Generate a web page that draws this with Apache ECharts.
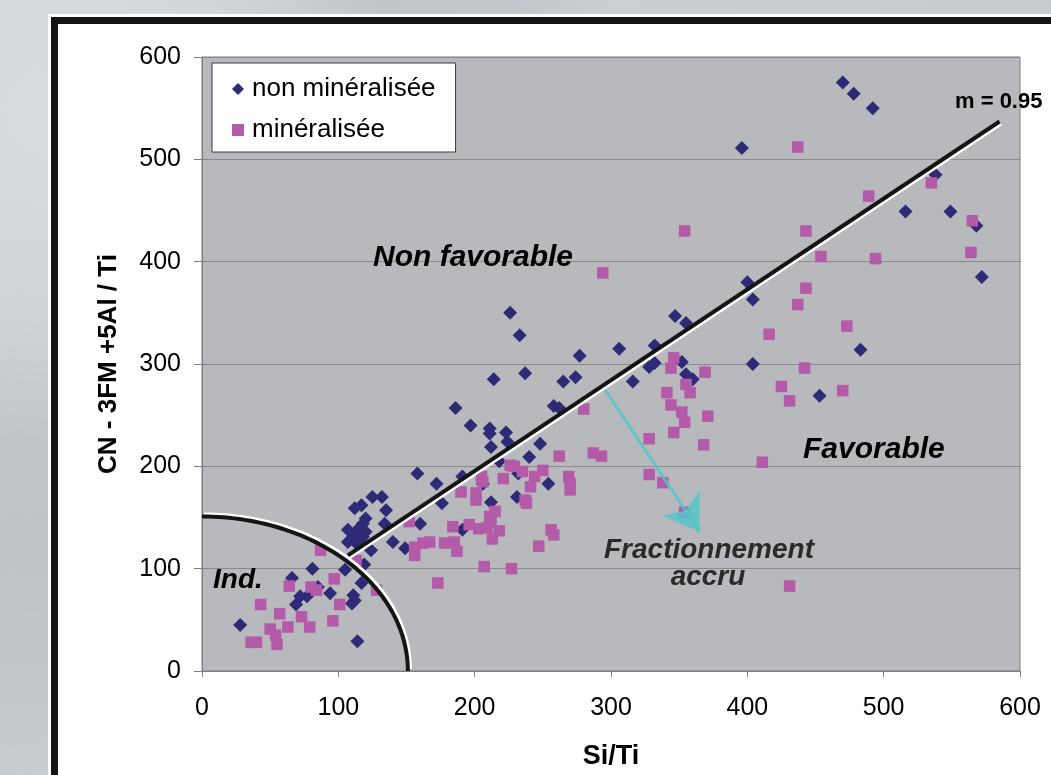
<!DOCTYPE html>
<html><head><meta charset="utf-8">
<script src="https://cdn.jsdelivr.net/npm/echarts@6/dist/echarts.min.js"></script>
<style>
html,body{margin:0;padding:0;width:1051px;height:775px;overflow:hidden;}
body{background:
 radial-gradient(ellipse at 8% 15%, #dadde1 0%, rgba(218,221,225,0) 35%),
 radial-gradient(ellipse at 35% 0%, #b8bbc0 0%, rgba(184,187,192,0) 25%),
 radial-gradient(ellipse at 3% 70%, #bfc2c7 0%, rgba(191,194,199,0) 30%),
 linear-gradient(160deg,#cfd2d6,#c4c7cc 50%,#d1d4d8);}
#frame{position:absolute;left:51px;top:17px;width:1200px;height:900px;border:7px solid #141414;outline:3px solid #fff;background:#fff;}
#chart{position:absolute;left:0;top:0;width:1051px;height:775px;}
</style></head><body>
<div id="frame"></div><div id="chart"></div>
<script>
const FONT = '"Liberation Sans", Arial, sans-serif';
const seriesNames = ['non minéralisée', 'minéralisée'];
const xTicks = [0, 100, 200, 300, 400, 500, 600];
const yTicks = [0, 100, 200, 300, 400, 500, 600];
const axisNames = ['Si/Ti', 'CN - 3FM +5Al / Ti'];

const nonMineralisee = [
 [125,170],[132,170],[112,159],[117,162],[135,157],[120,149],[118,144],[107,138],[114,138],[120,136],
 [134,144],[111,131],[118,131],[107,126],[113,125],[140,126],[124,118],[149,120],[119,104],[81,100],
 [105,99],[66,91],[117,86],[85,82],[94,76],[72,73],[77,73],[69,65],[111,74],[112,69],[110,66],[28,45],[114,29],
 [158,193],[172,183],[212,219],[224,224],[160,144],[176,164],[212,165],[191,138],[206,183],[231,170],[191,190],
 [233,328],[277,308],[306,315],[214,285],[237,291],[265,283],[274,287],[186,257],[197,240],[211,237],
 [211,232],[223,233],[258,259],[262,257],[248,222],[240,209],[218,205],[254,183],[232,193],[226,350],
 [470,575],[478,564],[492,550],[396,511],[538,485],[516,449],[549,449],[568,435],[572,385],[400,380],
 [404,363],[347,347],[355,340],[332,318],[483,314],[328,297],[332,301],[352,302],[355,290],[360,285],
 [316,283],[404,300],[453,269]
];
const mineralisee = [
 [87,118],[113,108],[97,90],[64,83],[80,82],[84,79],[128,79],[101,65],[43,65],[57,56],[73,53],[96,49],
 [50,41],[54,35],[63,43],[79,43],[36,28],[40,28],[55,26],
 [156,121],[156,113],[162,125],[167,126],[152,146],[178,125],[185,126],[187,117],[184,141],[196,143],
 [203,139],[209,140],[212,146],[218,137],[211,151],[213,129],[215,156],[190,175],[201,174],[201,167],
 [205,190],[206,185],[221,188],[226,201],[229,200],[235,195],[244,190],[250,196],[241,180],[269,190],
 [270,183],[270,177],[237,167],[238,164],[256,138],[258,133],[247,122],[207,102],[227,100],[173,86],
 [280,256],[262,210],[287,213],[293,210],
 [294,389],[437,512],[535,477],[489,464],[354,430],[443,430],[565,440],[454,405],[494,403],[564,409],
 [443,374],[437,358],[416,329],[473,337],[346,306],[344,296],[369,292],[442,296],[425,278],[431,264],
 [470,274],[341,272],[355,280],[358,272],[344,260],[352,253],[354,243],[371,249],[346,233],[328,227],
 [368,221],[411,204],[328,192],[338,184],[354,155],[431,83]
];
const trendLine = [[107,113],[585,537]];
const trendLabel = 'm = 0.95';
const indRadius = 151;
const fracArrow = [[295,276],[365,136]];
const zoneLabels = ['Non favorable', 'Favorable', 'Fractionnement', 'accru', 'Ind.'];

const arcPoints = [];
for (let a = 0; a <= 90; a += 1.5) {
  const t = a * Math.PI / 180;
  arcPoints.push([indRadius * Math.cos(t), indRadius * Math.sin(t)]);
}

const chart = echarts.init(document.getElementById('chart'), null, {renderer: 'canvas'});
const tickColor = '#7d7d7d';
const txt = (text, x, y, size, opts) => Object.assign({
  type: 'text', x: x, y: y, z: 100,
  style: Object.assign({text: text, fontFamily: FONT, fontSize: size, fontWeight: 'bold', fontStyle: 'italic',
    fill: '#000', align: 'left', verticalAlign: 'middle'}, opts || {})
});

chart.setOption({
  animation: false,
  grid: {left: 202, top: 57, right: 31, bottom: 104, show: true, backgroundColor: '#b8b9bd',
    borderColor: tickColor, borderWidth: 1, containLabel: false, outerBoundsMode: 'none'},
  legend: {
    left: 212, top: 63, orient: 'vertical',
    data: [{name: seriesNames[0], icon: 'diamond'}, {name: seriesNames[1], icon: 'rect'}],
    backgroundColor: '#fff', borderColor: '#3a3a3a', borderWidth: 1, borderRadius: 0,
    padding: [12, 20, 8, 20], itemGap: 13, itemWidth: 12, itemHeight: 12,
    textStyle: {fontFamily: FONT, fontSize: 26, color: '#000', lineHeight: 28, padding: [0, 0, 0, 3]}
  },
  xAxis: {
    type: 'value', min: xTicks[0], max: xTicks[xTicks.length - 1], interval: xTicks[1] - xTicks[0],
    name: axisNames[0], nameLocation: 'middle', nameGap: 72,
    nameTextStyle: {fontFamily: FONT, fontSize: 27, fontWeight: 'bold', color: '#000'},
    axisLine: {show: true, onZero: false, lineStyle: {color: tickColor, width: 1}},
    axisTick: {show: true, length: 6, lineStyle: {color: tickColor}},
    axisLabel: {fontFamily: FONT, fontSize: 25, color: '#000', margin: 25, showMinLabel: true, showMaxLabel: true},
    splitLine: {show: false}
  },
  yAxis: {
    type: 'value', min: yTicks[0], max: yTicks[yTicks.length - 1], interval: yTicks[1] - yTicks[0],
    name: axisNames[1], nameLocation: 'middle', nameGap: 80, nameRotate: 90,
    nameTextStyle: {fontFamily: FONT, fontSize: 26, fontWeight: 'bold', color: '#000'},
    axisLine: {show: true, onZero: false, lineStyle: {color: tickColor, width: 1}},
    axisTick: {show: true, length: 8, lineStyle: {color: tickColor}},
    axisLabel: {fontFamily: FONT, fontSize: 25, color: '#000', margin: 21, showMinLabel: true, showMaxLabel: true},
    splitLine: {show: true, lineStyle: {color: '#8a8b8d', width: 1}}
  },
  graphic: [
    txt(zoneLabels[0], 373, 258, 30),
    txt(zoneLabels[1], 803, 450, 30),
    txt(zoneLabels[2], 709, 550, 28, {align: 'center', fill: '#2a2a2a'}),
    txt(zoneLabels[3], 708, 577, 28, {align: 'center', fill: '#2a2a2a'}),
    txt(zoneLabels[4], 213, 580, 28),
    txt(trendLabel, 955, 102, 22, {fontStyle: 'normal'})
  ],
  series: [
    {name: seriesNames[0], type: 'scatter', data: nonMineralisee, symbol: 'diamond', symbolSize: 14,
      itemStyle: {color: '#2f2a75', opacity: 1}, z: 2, silent: true},
    {name: seriesNames[1], type: 'scatter', data: mineralisee, symbol: 'rect', symbolSize: 11.5,
      itemStyle: {color: '#b35aa8', opacity: 1}, z: 3, silent: true},
    {name: 'arc', type: 'line', data: arcPoints, showSymbol: false, symbol: 'none', smooth: false, z: 4,
      lineStyle: {color: '#151515', width: 4, shadowColor: '#ffffff', shadowBlur: 0, shadowOffsetX: 2, shadowOffsetY: -2},
      silent: true},
    {name: 'trend', type: 'line', data: trendLine, showSymbol: false, symbol: 'none', z: 5,
      lineStyle: {color: '#151515', width: 4, shadowColor: '#ffffff', shadowBlur: 0, shadowOffsetX: 1.3, shadowOffsetY: 2},
      silent: true},
    {name: 'arrow', type: 'line', data: [], z: 6, silent: true,
      markLine: {silent: true, symbol: ['none', 'arrow'], symbolSize: [34, 34], label: {show: false},
        lineStyle: {color: 'rgba(84,196,200,0.85)', width: 3, type: 'solid'},
        data: [[{coord: fracArrow[0]}, {coord: fracArrow[1]}]]}}
  ]
});
</script>
</body></html>
